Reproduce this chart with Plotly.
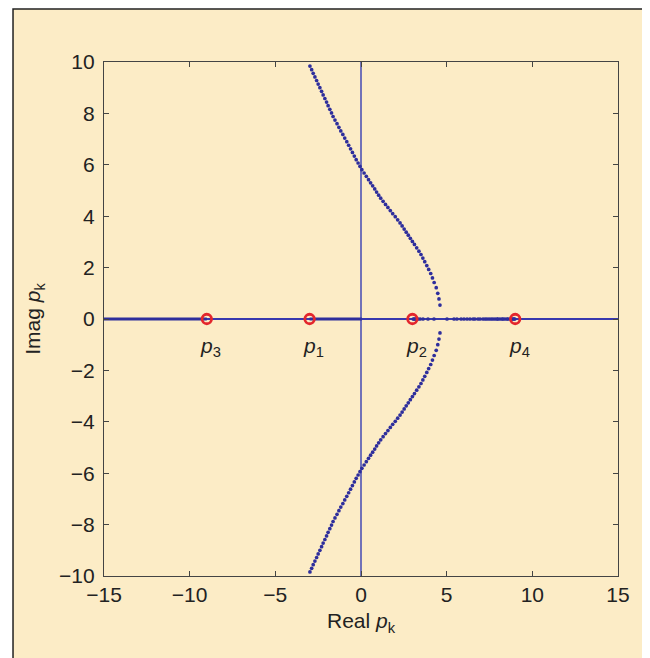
import plotly.graph_objects as go

# ---- data ----
upper_x = [-2.98, -2.88, -2.79, -2.69, -2.59, -2.50, -2.40, -2.30, -2.21, -2.11, -2.01, -1.92, -1.82, -1.72, -1.63,
           -1.52, -1.40, -1.29, -1.18, -1.06, -0.95, -0.83, -0.72, -0.61, -0.50, -0.39, -0.28, -0.17, -0.06,
           0.05, 0.18, 0.31, 0.44, 0.56, 0.68, 0.80, 0.91, 1.03, 1.15,
           1.29, 1.43, 1.57, 1.71, 1.85, 2.00, 2.14, 2.28,
           2.40, 2.52, 2.64, 2.76, 2.88, 3.00, 3.12, 3.25, 3.38,
           3.50, 3.61, 3.72, 3.84, 3.95,
           4.07, 4.17, 4.27, 4.39,
           4.48, 4.55, 4.61]
upper_y = [9.84, 9.70, 9.56, 9.42, 9.28, 9.14, 9.00, 8.86, 8.72, 8.58, 8.44, 8.30, 8.16, 8.02, 7.88,
           7.74, 7.60, 7.46, 7.32, 7.18, 7.04, 6.90, 6.76, 6.62, 6.48, 6.34, 6.20, 6.07, 5.94,
           5.81, 5.68, 5.55, 5.42, 5.30, 5.18, 5.06, 4.94, 4.82, 4.70,
           4.58, 4.46, 4.34, 4.22, 4.10, 3.98, 3.86, 3.74,
           3.62, 3.50, 3.38, 3.26, 3.14, 3.02, 2.90, 2.77, 2.64,
           2.51, 2.37, 2.23, 2.08, 1.93,
           1.77, 1.60, 1.42, 1.22,
           1.00, 0.78, 0.54]
lower_x = upper_x[:]
lower_y = [-9.84, -9.70, -9.56, -9.42, -9.28, -9.14, -9.00, -8.86, -8.72, -8.58, -8.44, -8.30, -8.16, -8.02, -7.88,
           -7.74, -7.60, -7.46, -7.32, -7.18, -7.04, -6.90, -6.76, -6.62, -6.48, -6.34, -6.20, -6.07, -5.94,
           -5.81, -5.68, -5.55, -5.42, -5.30, -5.18, -5.06, -4.94, -4.82, -4.70,
           -4.58, -4.46, -4.34, -4.22, -4.10, -3.98, -3.86, -3.74,
           -3.62, -3.50, -3.38, -3.26, -3.14, -3.02, -2.90, -2.77, -2.64,
           -2.51, -2.37, -2.23, -2.08, -1.93,
           -1.77, -1.60, -1.42, -1.22,
           -1.00, -0.78, -0.54]

real_dots_x = [3.05, 3.10, 3.16, 3.23, 3.33, 3.45, 3.62, 3.91, 4.26,
               5.02, 5.43, 5.60, 5.84, 6.01, 6.19, 6.36, 6.54, 6.65, 6.83, 6.95, 7.12, 7.24, 7.35,
               7.47, 7.59, 7.70, 7.82, 7.94, 7.99, 8.11, 8.23, 8.29, 8.40, 8.52, 8.58, 8.70, 8.81,
               8.87, 8.93, 8.97]
real_dots_y = [0.0] * len(real_dots_x)

left_tail_x = [-15.0, -9.0]
left_tail_y = [0.0, 0.0]
mid_seg_x = [-3.0, 0.05]
mid_seg_y = [0.0, 0.0]

pole_x = [-9, -3, 3, 9]
pole_y = [0, 0, 0, 0]
pole_labels = ["<i>p</i><sub>3</sub>", "<i>p</i><sub>1</sub>", "<i>p</i><sub>2</sub>", "<i>p</i><sub>4</sub>"]

x_ticks = [-15, -10, -5, 0, 5, 10, 15]
y_ticks = [-10, -8, -6, -4, -2, 0, 2, 4, 6, 8, 10]

# ---- styling ----
BEIGE = "#FCECC6"
DOT = "#2E2E9C"
FONT = "Liberation Sans, Arial, sans-serif"
FS = 21

fig = go.Figure()
fig.add_trace(go.Scatter(x=left_tail_x, y=left_tail_y, mode="lines",
                         line=dict(color=DOT, width=3), hoverinfo="skip"))
fig.add_trace(go.Scatter(x=mid_seg_x, y=mid_seg_y, mode="lines",
                         line=dict(color=DOT, width=3.2), hoverinfo="skip"))
for xs, ys in [(upper_x, upper_y), (lower_x, lower_y), (real_dots_x, real_dots_y)]:
    fig.add_trace(go.Scatter(x=xs, y=ys, mode="markers",
                             marker=dict(color=DOT, size=3.7, line=dict(width=0))))
fig.add_trace(go.Scatter(x=pole_x, y=pole_y, mode="markers",
                         marker=dict(symbol="circle-open", color="#E3262C", size=9.5,
                                     line=dict(width=2.8, color="#E3262C"))))

for px, lab in zip(pole_x, pole_labels):
    fig.add_annotation(x=px, y=0, text=lab, showarrow=False, xshift=4, yshift=-28,
                       yanchor="middle", xanchor="center",
                       font=dict(family=FONT, size=FS, color="#222"))

axis_common = dict(showgrid=False, showline=True, linecolor="#444", linewidth=1.2,
                   mirror="ticks", ticks="inside", ticklen=5, tickcolor="#444",
                   tickfont=dict(family=FONT, size=FS, color="#222"))

fig.update_layout(
    width=650, height=658,
    margin=dict(l=96, r=40, t=54, b=90),
    paper_bgcolor="white", plot_bgcolor=BEIGE,
    showlegend=False,
    xaxis=dict(range=[-15, 15], tickvals=x_ticks, ticktext=[str(v).replace("-", "\u2212") for v in x_ticks],
               zeroline=True, zerolinecolor="#7272B8", zerolinewidth=2,
               title=dict(text="Real <i>p</i><sub>k</sub>", standoff=8,
                          font=dict(family=FONT, size=FS, color="#222")),
               **axis_common),
    yaxis=dict(range=[-10, 10], tickvals=y_ticks, ticktext=[str(v).replace("-", "\u2212") for v in y_ticks],
               zeroline=True, zerolinecolor="#3838AE", zerolinewidth=1.6, ticklabelstandoff=4,
               title=dict(text="Imag <i>p</i><sub>k</sub>", standoff=12,
                          font=dict(family=FONT, size=FS, color="#222")),
               **axis_common),
    shapes=[dict(type="rect", xref="paper", yref="paper", layer="below",
                 x0=-0.177, x1=1.2, y0=-0.3, y1=1.103,
                 fillcolor=BEIGE, line=dict(color="#222", width=1.5))],
)

fig.write_html("out.html")
